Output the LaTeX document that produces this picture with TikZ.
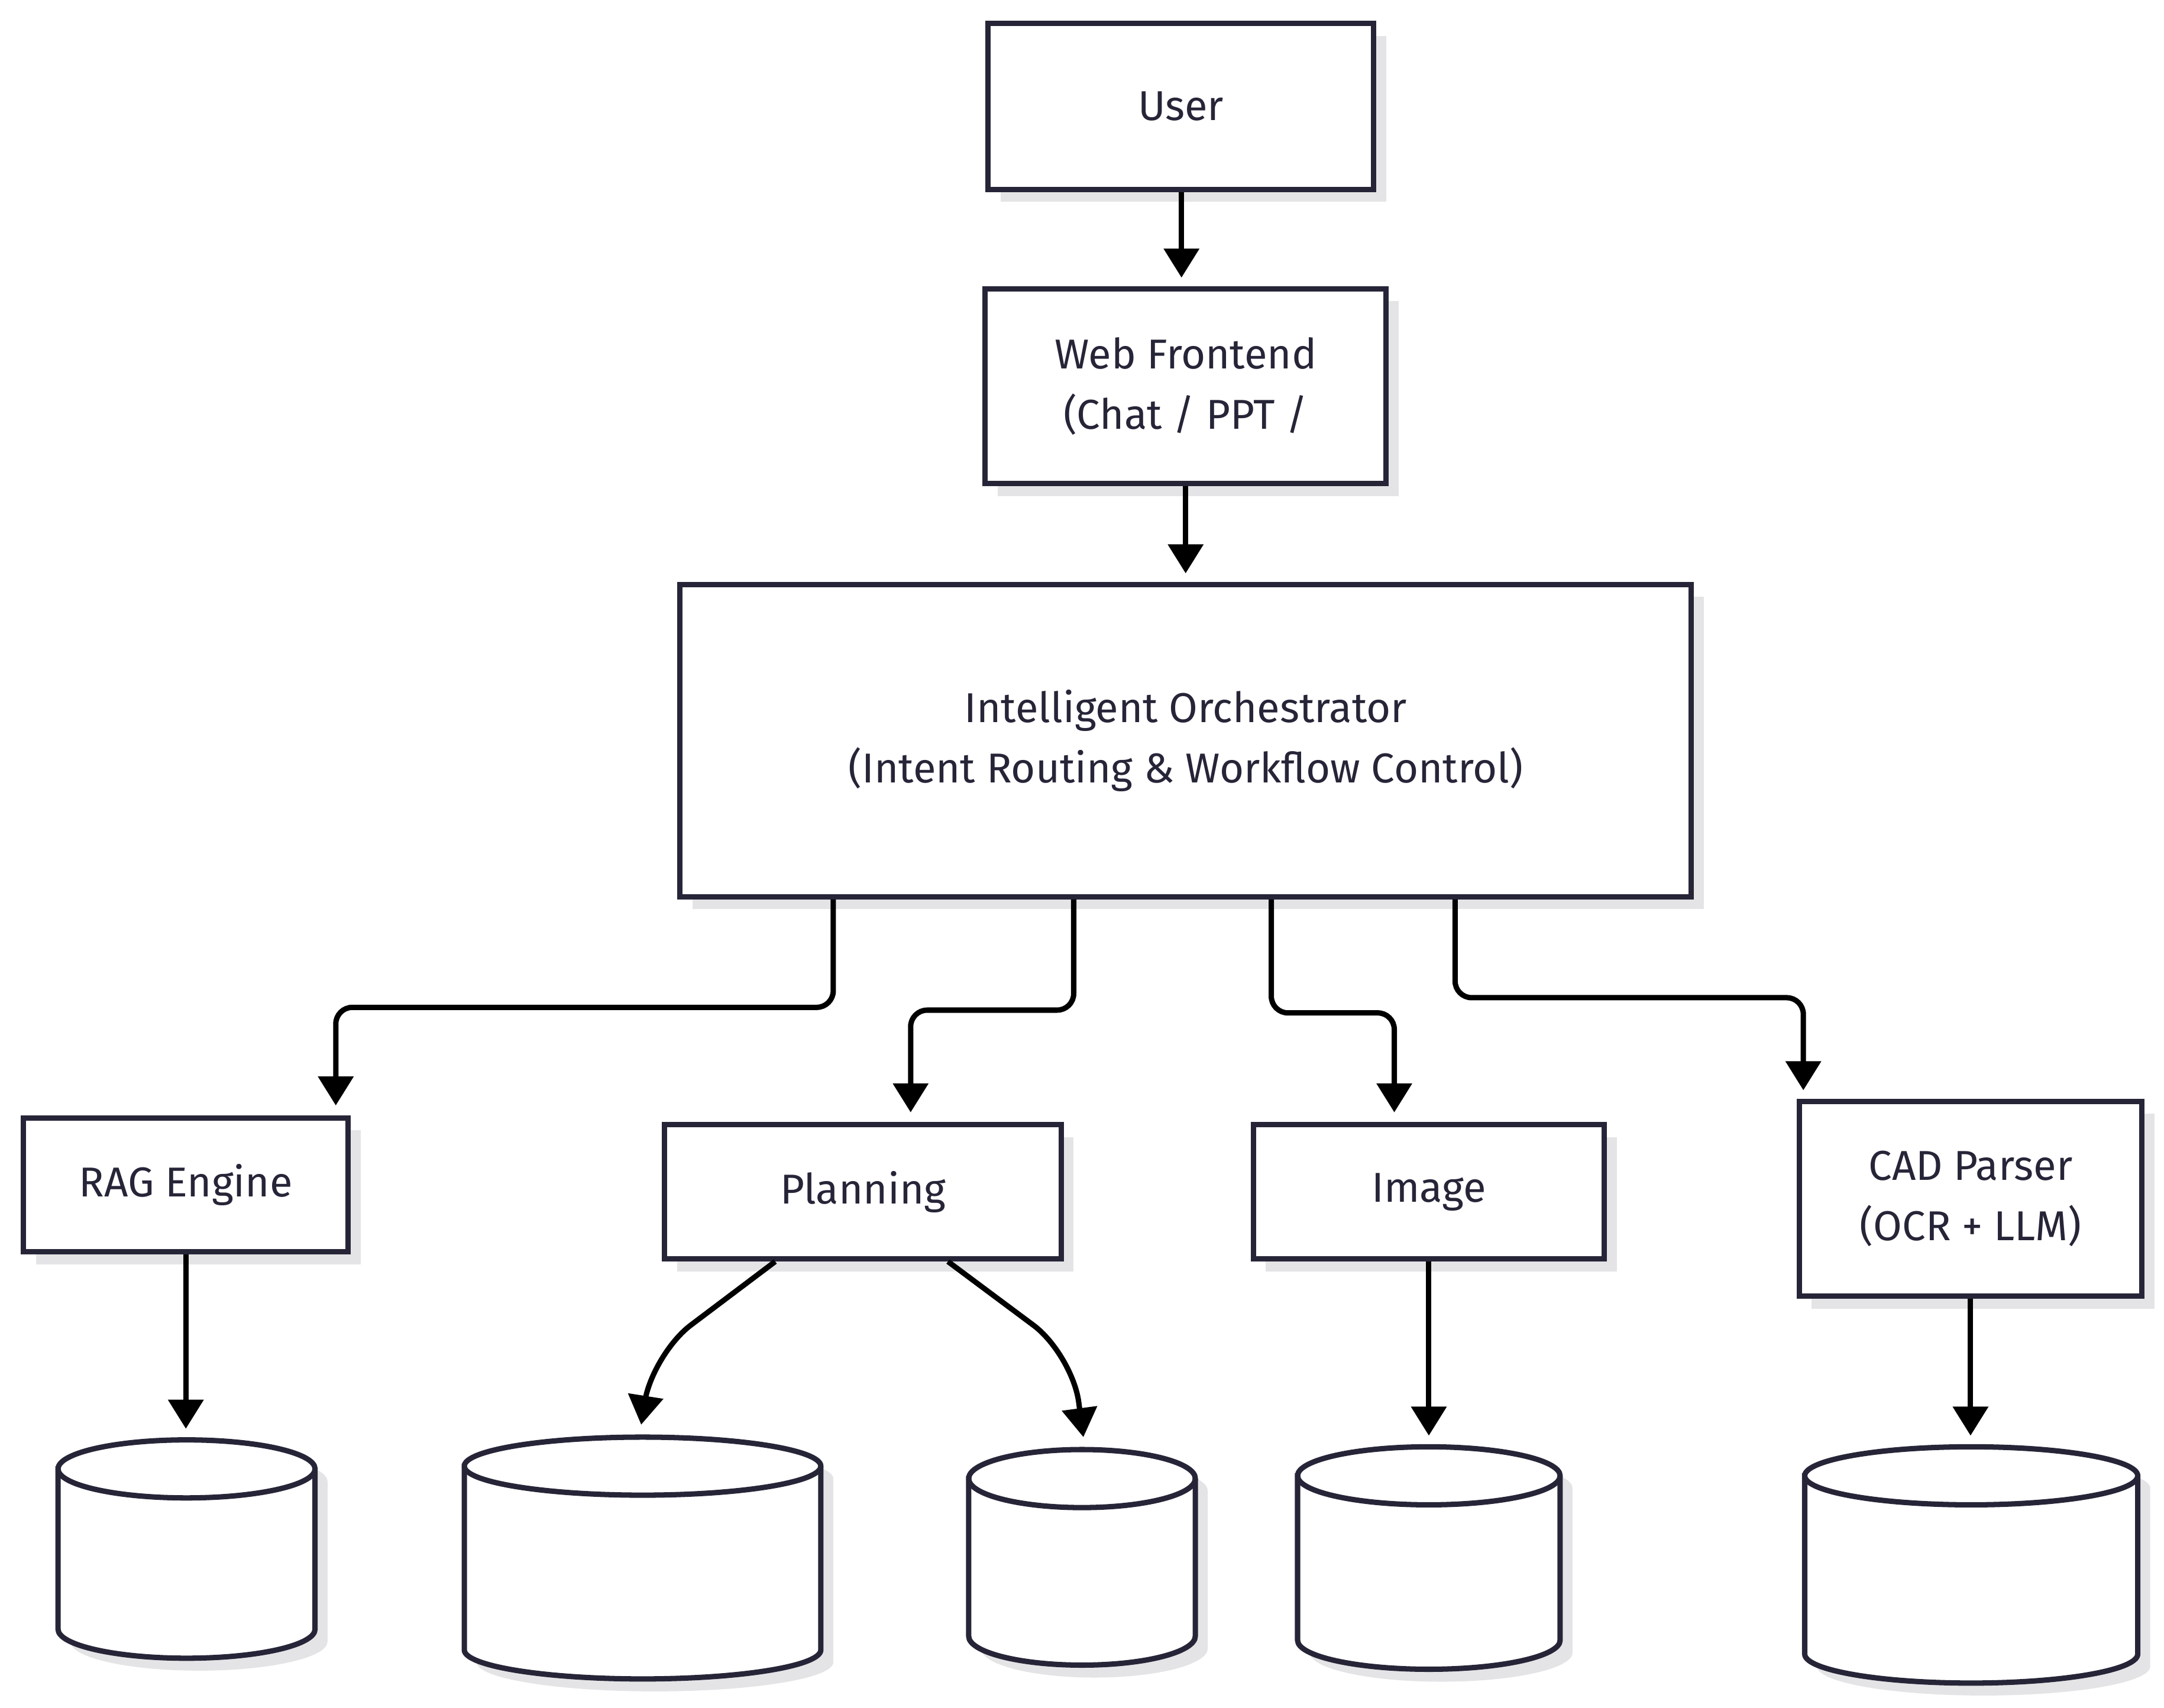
\documentclass[tikz,border=0pt]{standalone}
\usepackage{fontspec}
\setmainfont{Fira Sans}
\usetikzlibrary{arrows.meta}
\definecolor{ink}{HTML}{262538}
\definecolor{shad}{HTML}{E4E4E6}
\tikzset{
  box/.style={draw=ink,line width=1.1pt,fill=white,inner sep=0pt,align=center,font=\fontsize{8.6}{12.5}\selectfont\color{ink}},
  conn/.style={draw=black,line width=1.1pt,rounded corners=0.12cm,-{Triangle[width=0.25cm,length=0.21cm]}},
}
\newcommand\bx[6]{% name x1 y1 x2 y2 text (px)
  \fill[shad] ({#2/100+0.09},{-#3/100-0.09}) rectangle ({#4/100+0.09},{-#5/100-0.09});
  \node[box,minimum width={(#4-#2)/100*1cm},minimum height={(#5-#3)/100*1cm}] (#1) at ({(#2+#4)/200},{-(#3+#5)/200}) {#6};}
\newcommand\cyl[6]{%
  \pgfmathsetmacro\xa{#2/100}\pgfmathsetmacro\xb{#4/100}
  \pgfmathsetmacro\yt{-#3/100}\pgfmathsetmacro\yb{-#5/100}
  \pgfmathsetmacro\rx{(#4-#2)/200}\pgfmathsetmacro\xc{(#2+#4)/200}
  \def\ry{0.21}
  \begin{scope}[shift={(0.09,-0.09)}]
  \fill[shad] (\xa,\yt-\ry) -- (\xa,\yb+\ry) arc[start angle=180,end angle=360,x radius=\rx,y radius=\ry] -- (\xb,\yt-\ry) arc[start angle=0,end angle=180,x radius=\rx,y radius=\ry] -- cycle;
  \end{scope}
  \draw[ink,line width=1.1pt,fill=white] (\xa,\yt-\ry) -- (\xa,\yb+\ry) arc[start angle=180,end angle=360,x radius=\rx,y radius=\ry] -- (\xb,\yt-\ry) arc[start angle=0,end angle=180,x radius=\rx,y radius=\ry] -- cycle;
  \draw[ink,line width=1.1pt] (\xa,\yt-\ry) arc[start angle=180,end angle=360,x radius=\rx,y radius=\ry];
  \node[font=\fontsize{8.6}{12.5}\selectfont\color{ink},inner sep=0pt] (#1) at (\xc,{(\yt+\yb)/2-0.11}) {#6};
  \coordinate (#1top) at (\xc,\yt);}
\begin{document}
\begin{tikzpicture}
\useasboundingbox[fill=white] (0,0) rectangle (15.66,-12.36);
\bx{user}{715}{17}{994}{137}{User}
\bx{web}{713}{209}{1003}{350}{Web Frontend\\(Chat / PPT /}
\bx{orch}{492}{423}{1224}{649}{Intelligent Orchestrator\\(Intent Routing \& Workflow Control)}
\bx{rag}{17}{809}{252}{906}{RAG Engine}
\bx{plan}{481}{814}{768}{911}{Planning}
\bx{img}{907}{814}{1161}{911}{Image}
\bx{cad}{1302}{797}{1550}{938}{CAD Parser\\(OCR + LLM)}
\cyl{vec}{42}{1042}{228}{1200}{}{Vector}
\cyl{case}{336}{1040}{594}{1215}{}{Case}
\cyl{map}{701}{1049}{865}{1205}{}{Map}
\cyl{imgdb}{939}{1047}{1129}{1208}{}{Image}
\cyl{code}{1306}{1047}{1547}{1218}{}{Code PDF DB}
\draw[conn] (user.south -| 8.55,0) -- ++(0,-0.62);
\draw[conn] (web.south -| 8.58,0) -- ++(0,-0.63);
\draw[conn] (orch.south -| 6.03,0) -- (6.03,-7.29) -- (2.43,-7.29) -- (2.43,-8.00);
\draw[conn] (orch.south -| 7.77,0) -- (7.77,-7.31) -- (6.59,-7.31) -- (6.59,-8.05);
\draw[conn] (orch.south -| 9.20,0) -- (9.20,-7.33) -- (10.09,-7.33) -- (10.09,-8.05);
\draw[conn] (orch.south -| 10.53,0) -- (10.53,-7.22) -- (13.05,-7.22) -- (13.05,-7.89);
\draw[conn] (rag.south) -- ++(0,-1.26);
\draw[conn] (img.south) -- ++(0,-1.26);
\draw[conn] (cad.south) -- ++(0,-0.99);
\draw[conn,rounded corners=0.35cm] (plan.south -| 5.61,0) -- (4.72,-9.80) -- (4.64,-10.31);
\draw[conn,rounded corners=0.35cm] (plan.south -| 6.86,0) -- (7.76,-9.80) -- (7.84,-10.40);
\end{tikzpicture}
\end{document}
